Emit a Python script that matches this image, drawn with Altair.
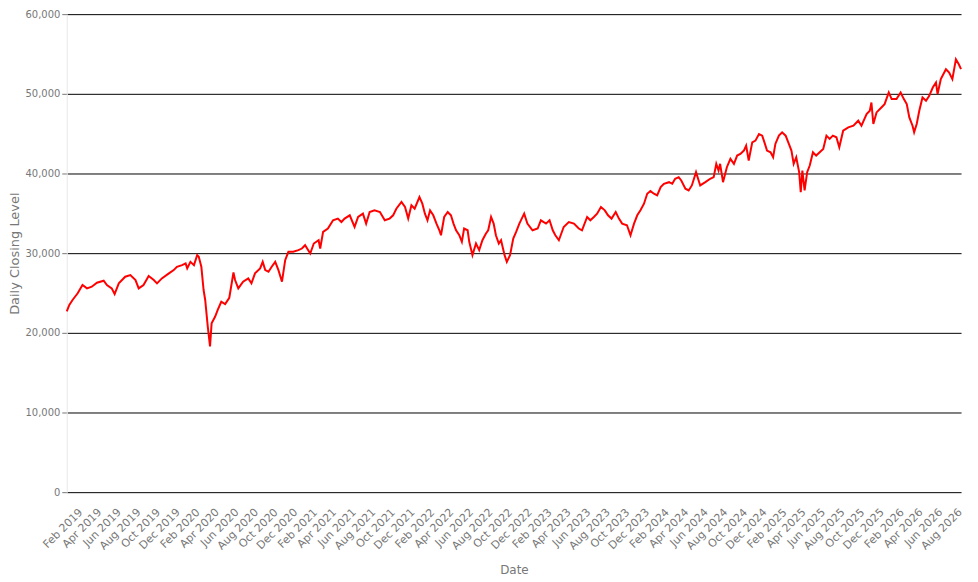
import altair as alt
import pandas as pd

dates = [
    "2019-01-02", "2019-01-10", "2019-01-20", "2019-02-05", "2019-02-20", "2019-03-06", "2019-03-21",
    "2019-04-06", "2019-04-27", "2019-05-07", "2019-05-22", "2019-05-31", "2019-06-13", "2019-07-03",
    "2019-07-19", "2019-08-04", "2019-08-14", "2019-08-29", "2019-09-14", "2019-09-30", "2019-10-10",
    "2019-10-25", "2019-11-16", "2019-12-01", "2019-12-11", "2019-12-27", "2020-01-07", "2020-01-12",
    "2020-01-22", "2020-02-02", "2020-02-12", "2020-02-17", "2020-02-25", "2020-03-03", "2020-03-08",
    "2020-03-16", "2020-03-23", "2020-03-28", "2020-04-08", "2020-04-16", "2020-04-27", "2020-05-09",
    "2020-05-22", "2020-06-04", "2020-06-09", "2020-06-19", "2020-07-04", "2020-07-20", "2020-07-30",
    "2020-08-10", "2020-08-26", "2020-09-03", "2020-09-11", "2020-09-21", "2020-10-01", "2020-10-12",
    "2020-10-22", "2020-11-02", "2020-11-12", "2020-11-22", "2020-12-07", "2020-12-23", "2021-01-03",
    "2021-01-13", "2021-01-29", "2021-02-09", "2021-02-24", "2021-03-01", "2021-03-10", "2021-03-25",
    "2021-04-10", "2021-04-25", "2021-05-06", "2021-05-16", "2021-06-01", "2021-06-16", "2021-06-27",
    "2021-07-12", "2021-07-22", "2021-08-02", "2021-08-17", "2021-09-03", "2021-09-18", "2021-10-03",
    "2021-10-14", "2021-10-24", "2021-11-09", "2021-11-20", "2021-11-30", "2021-12-10", "2021-12-20",
    "2022-01-04", "2022-01-13", "2022-01-21", "2022-01-29", "2022-02-06", "2022-02-16", "2022-02-26",
    "2022-03-07", "2022-03-12", "2022-03-22", "2022-04-02", "2022-04-12", "2022-04-20", "2022-04-28",
    "2022-05-08", "2022-05-16", "2022-05-23", "2022-06-03", "2022-06-08", "2022-06-18", "2022-06-29",
    "2022-07-09", "2022-07-19", "2022-07-30", "2022-08-06", "2022-08-15", "2022-08-23", "2022-08-30",
    "2022-09-08", "2022-09-15", "2022-09-26", "2022-10-03", "2022-10-13", "2022-10-23", "2022-11-01",
    "2022-11-11", "2022-11-26", "2022-12-06", "2022-12-22", "2023-01-07", "2023-01-17", "2023-02-02",
    "2023-02-13", "2023-02-23", "2023-03-03", "2023-03-14", "2023-03-29", "2023-04-14", "2023-04-30",
    "2023-05-15", "2023-05-25", "2023-06-10", "2023-06-20", "2023-07-01", "2023-07-11", "2023-07-23",
    "2023-08-04", "2023-08-14", "2023-08-25", "2023-09-07", "2023-09-17", "2023-09-27", "2023-10-12",
    "2023-10-23", "2023-11-03", "2023-11-13", "2023-11-23", "2023-12-04", "2023-12-14", "2023-12-24",
    "2024-01-04", "2024-01-14", "2024-01-25", "2024-02-04", "2024-02-20", "2024-03-01", "2024-03-10",
    "2024-03-21", "2024-03-29", "2024-04-11", "2024-04-21", "2024-05-01", "2024-05-14", "2024-05-27",
    "2024-06-12", "2024-06-27", "2024-07-08", "2024-07-16", "2024-07-23", "2024-07-28", "2024-08-06",
    "2024-08-18", "2024-08-29", "2024-09-09", "2024-09-19", "2024-09-29", "2024-10-10", "2024-10-17",
    "2024-10-25", "2024-11-05", "2024-11-15", "2024-11-26", "2024-12-06", "2024-12-13", "2024-12-21",
    "2025-01-01", "2025-01-09", "2025-01-16", "2025-01-27", "2025-02-06", "2025-02-17", "2025-02-27",
    "2025-03-07", "2025-03-14", "2025-03-22", "2025-03-31", "2025-04-05", "2025-04-10", "2025-04-17",
    "2025-04-25", "2025-05-03", "2025-05-13", "2025-05-23", "2025-06-03", "2025-06-14", "2025-06-24",
    "2025-07-04", "2025-07-14", "2025-07-25", "2025-08-03", "2025-08-15", "2025-08-31", "2025-09-16",
    "2025-10-01", "2025-10-11", "2025-10-27", "2025-11-06", "2025-11-11", "2025-11-17", "2025-11-27",
    "2025-12-12", "2025-12-22", "2026-01-04", "2026-01-13", "2026-01-28", "2026-02-10", "2026-02-20",
    "2026-03-01", "2026-03-09", "2026-03-19", "2026-03-24", "2026-04-01", "2026-04-09", "2026-04-19",
    "2026-04-30", "2026-05-10", "2026-05-21", "2026-05-31", "2026-06-05", "2026-06-15", "2026-07-01",
    "2026-07-11", "2026-07-21", "2026-08-01", "2026-08-10", "2026-08-17",
]

closes = [
    22700, 23500, 24125, 24960, 26000, 25580, 25790,
    26290, 26540, 26000, 25580, 24875, 26210, 27040,
    27250, 26625, 25580, 26000, 27125, 26625, 26210,
    26830, 27460, 27875, 28290, 28500, 28710, 28090,
    28910, 28500, 29750, 29540, 28290, 25375, 24125,
    20790, 18300, 21210, 22040, 22875, 23900, 23600,
    24400, 27570, 26625, 25580, 26420, 26830, 26210,
    27460, 28090, 28910, 27875, 27670, 28290, 28910,
    27875, 26420, 29125, 30170, 30170, 30375, 30580,
    31000, 29960, 31210, 31625, 30580, 32670, 33090,
    34125, 34340, 33910, 34340, 34750, 33290, 34540,
    34960, 33710, 35170, 35375, 35170, 34125, 34340,
    34750, 35580, 36420, 35790, 34340, 36000, 35580,
    37040, 36210, 34960, 34125, 35375, 34750, 33710,
    32875, 32250, 34540, 35170, 34750, 33710, 32875,
    32250, 31420, 33090, 32875, 31420, 29750, 31210,
    30375, 31625, 32460, 32875, 34540, 33710, 32250,
    31210, 31625, 29750, 28910, 29750, 31840, 32670,
    33710, 34960, 33710, 32875, 33090, 34125, 33710,
    34125, 32875, 32250, 31625, 33290, 33910, 33710,
    33090, 32875, 34540, 34125, 34540, 34960, 35790,
    35375, 34750, 34340, 35170, 34340, 33710, 33500,
    32250, 33710, 34750, 35375, 36210, 37460, 37790,
    37460, 37250, 38290, 38710, 38910, 38710, 39340,
    39540, 39125, 38090, 37875, 38500, 40170, 38500,
    38910, 39340, 39540, 41210, 40375, 41210, 38910,
    40790, 41840, 41210, 42250, 42460, 42875, 43500,
    41625, 43910, 44125, 44960, 44750, 43910, 42875,
    42670, 42040, 43710, 44750, 45170, 44750, 43710,
    42875, 41210, 42040, 40170, 37670, 40375, 37875,
    40170, 41000, 42670, 42250, 42670, 43090, 44750,
    44340, 44750, 44540, 43290, 45375, 45790, 46000,
    46625, 46000, 47460, 47875, 48910, 46210, 47670,
    48290, 48710, 50170, 49340, 49340, 50170, 49340,
    48710, 47040, 46000, 45170, 46210, 47875, 49540,
    49125, 49750, 50790, 51420, 49960, 51840, 53090,
    52670, 51840, 54340, 53710, 53090,
]

y_ticks = [0, 10000, 20000, 30000, 40000, 50000, 60000]
tick_years = [2019, 2020, 2021, 2022, 2023, 2024, 2025, 2026]
tick_months = [2, 4, 6, 8, 10, 12]
x_ticks = [
    alt.DateTime(year=y, month=m, date=1)
    for y in tick_years
    for m in tick_months
    if (y, m) <= (2026, 8)
]

df = pd.DataFrame({"Date": pd.to_datetime(dates), "Close": closes})

FONT = "DejaVu Sans"
GREY = "#777777"

chart = (
    alt.Chart(df)
    .mark_line(color="#ff0000", strokeWidth=2)
    .encode(
        x=alt.X(
            "Date:T",
            title="Date",
            scale=alt.Scale(nice=False),
            axis=alt.Axis(
                values=x_ticks,
                format="%b %Y",
                labelAngle=-45,
                labelFontSize=11,
                labelColor=GREY,
                titleColor=GREY,
                titleFontSize=12,
                titleFontWeight="normal",
                titlePadding=13,
                grid=False,
                ticks=False,
                domain=False,
                labelPadding=14,
                labelFlush=False,
                labelOverlap=False,
            ),
        ),
        y=alt.Y(
            "Close:Q",
            title="Daily Closing Level",
            scale=alt.Scale(domain=[0, 60000], nice=False),
            axis=alt.Axis(
                values=y_ticks,
                format=",.0f",
                labelFontSize=10,
                labelColor=GREY,
                titleColor=GREY,
                titleFontSize=13,
                titleFontWeight="normal",
                titlePadding=3,
                gridColor="#000000",
                gridWidth=1,
                gridOpacity=1,
                domainColor="#e8e8e8",
                tickColor=GREY,
                tickSize=5,
                labelPadding=2,
            ),
        ),
    )
    .properties(width=898, height=480, padding={"left": 1, "top": 0, "right": 5, "bottom": 0})
    .configure_view(stroke=None)
    .configure_axis(labelFont=FONT, titleFont=FONT)
)

chart.save("out.html", embed_options={"renderer": "svg", "actions": False})
